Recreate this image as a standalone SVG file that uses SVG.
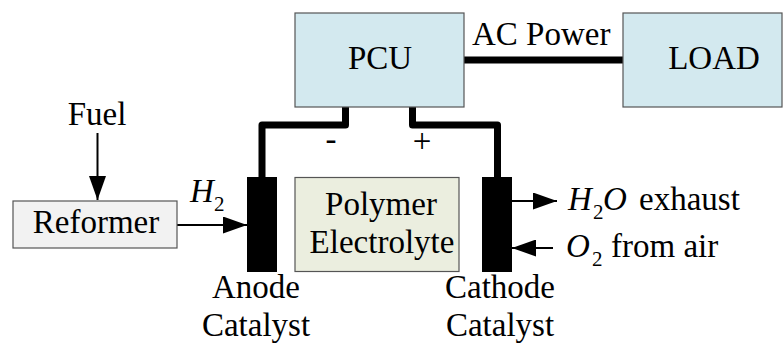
<svg xmlns="http://www.w3.org/2000/svg" width="783" height="345" viewBox="0 0 783 345">
<style>
text{font-family:"Liberation Serif","Times New Roman",serif;font-size:33px;fill:#000}
.c{text-anchor:middle}
.i{font-style:italic}
.sub{font-size:21px}
.box{stroke:#555;stroke-width:1.2}
.wire{fill:none;stroke:#000;stroke-width:7;stroke-linejoin:round;stroke-linecap:round}
.arr{stroke:#000;stroke-width:2;marker-end:url(#ah)}
</style>
<defs>
<marker id="ah" markerUnits="userSpaceOnUse" markerWidth="24" markerHeight="17" refX="24" refY="8.5" orient="auto">
<path d="M0,0 L24,8.5 L0,17 z" fill="#000"/>
</marker>
</defs>
<g id="connectors">
<path class="wire" d="M462,60 H623"/>
<path class="wire" d="M345.5,107 V125 H262 V178"/>
<path class="wire" d="M412.5,107 V125 H497.5 V178"/>
<line class="arr" x1="97.5" y1="133" x2="97.5" y2="200"/>
<line class="arr" x1="177" y1="225" x2="247" y2="225"/>
<line class="arr" x1="512" y1="201" x2="557" y2="201"/>
<line class="arr" x1="553" y1="248" x2="512" y2="248"/>
<text x="472" y="45">AC Power</text>
<text class="c" x="331" y="150">-</text>
<text class="c" x="422" y="152">+</text>
<text class="c" x="97" y="125">Fuel</text>
<text class="i" x="190" y="202">H</text>
<text class="sub" x="214" y="211">2</text>
<text class="i" x="568" y="210">H</text>
<text class="sub" x="593" y="219">2</text>
<text class="i" x="603" y="210">O</text>
<text x="639" y="210">exhaust</text>
<text class="i" x="566" y="257">O</text>
<text class="sub" x="592" y="266">2</text>
<text x="611" y="257">from air</text>
</g>
<g id="pcu">
<rect class="box" x="295" y="13" width="169" height="94" fill="#d3e9ef"/>
<text class="c" x="380" y="69">PCU</text>
</g>
<g id="load">
<rect class="box" x="623" y="13" width="159" height="94" fill="#d3e9ef"/>
<text class="c" x="714" y="69">LOAD</text>
</g>
<g id="reformer">
<rect class="box" x="13" y="201" width="164" height="47" fill="#f2f2f2"/>
<text class="c" x="96" y="233">Reformer</text>
</g>
<g id="anode">
<rect x="247" y="177" width="30" height="95" fill="#000"/>
<text class="c" x="256" y="298">Anode</text>
<text class="c" x="256" y="336">Catalyst</text>
</g>
<g id="electrolyte">
<rect class="box" x="295" y="177.5" width="164" height="94" fill="#ebeedf"/>
<text class="c" x="381" y="215">Polymer</text>
<text class="c" x="382" y="253">Electrolyte</text>
</g>
<g id="cathode">
<rect x="482" y="177" width="30" height="95" fill="#000"/>
<text class="c" x="500" y="298">Cathode</text>
<text class="c" x="500" y="336">Catalyst</text>
</g>
</svg>
